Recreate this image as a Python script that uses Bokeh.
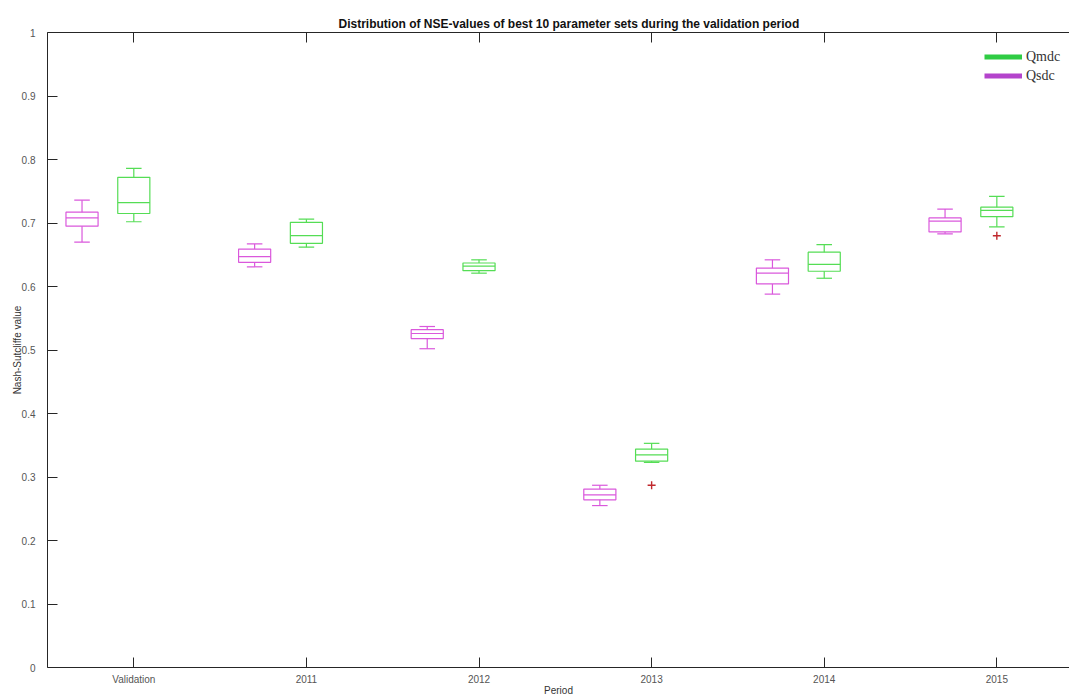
from bokeh.plotting import figure
from bokeh.models import (Range1d, FixedTicker, LinearAxis, CustomJSTickFormatter,
                          Legend, LegendItem, ColumnDataSource)
from bokeh.embed import file_html
from bokeh.resources import INLINE

# ---------------- data ----------------
periods = ["Validation", "2011", "2012", "2013", "2014", "2015"]
positions = [1, 2, 3, 4, 5, 6]

# Qsdc (magenta) : whisker low, q1, median, q3, whisker high
qsdc_low = [0.670, 0.631, 0.502, 0.255, 0.588, 0.683]
qsdc_q1 = [0.695, 0.638, 0.518, 0.264, 0.604, 0.686]
qsdc_med = [0.708, 0.647, 0.526, 0.272, 0.621, 0.703]
qsdc_q3 = [0.717, 0.659, 0.532, 0.281, 0.629, 0.708]
qsdc_high = [0.736, 0.667, 0.537, 0.287, 0.642, 0.722]

# Qmdc (green)
qmdc_low = [0.702, 0.662, 0.621, 0.323, 0.613, 0.694]
qmdc_q1 = [0.715, 0.668, 0.625, 0.325, 0.624, 0.710]
qmdc_med = [0.732, 0.680, 0.632, 0.335, 0.635, 0.720]
qmdc_q3 = [0.772, 0.701, 0.637, 0.344, 0.654, 0.725]
qmdc_high = [0.786, 0.706, 0.642, 0.353, 0.666, 0.742]

# outliers (Qmdc)
out_period = [4, 6]
out_value = [0.287, 0.680]

yticks = [0, 0.1, 0.2, 0.3, 0.4, 0.5, 0.6, 0.7, 0.8, 0.9, 1]

# ---------------- styling ----------------
C_SDC = "#da58dc"
C_MDC = "#55dd55"
C_SDC_LEG = "#b444cc"
C_MDC_LEG = "#2fcc44"
SDC_SHIFT = -0.30
HALF_BOX = 0.093
HALF_CAP = 0.045

p = figure(width=1069, height=698, output_backend="svg", toolbar_location=None,
           x_range=Range1d(0.5, 6.421), y_range=Range1d(0, 1),
           min_border_left=47, min_border_right=0, min_border_top=32,
           min_border_bottom=30)
p.outline_line_color = None
p.xgrid.visible = False
p.ygrid.visible = False
p.background_fill_color = "white"
p.border_fill_color = "white"

p.title.text = "Distribution of NSE-values of best 10 parameter sets during the validation period"
p.title.text_font = "Liberation Sans"
p.title.text_font_size = "12px"
p.title.text_font_style = "bold"
p.title.text_color = "#111111"
p.title.align = "left"
p.title.offset = 291
p.title.standoff = 4


def draw_boxes(xs, low, q1, med, q3, high, color):
    src = ColumnDataSource(dict(
        x=xs, left=[x - HALF_BOX for x in xs], right=[x + HALF_BOX for x in xs],
        cl=[x - HALF_CAP for x in xs], cr=[x + HALF_CAP for x in xs],
        low=low, q1=q1, med=med, q3=q3, high=high))
    kw = dict(source=src, line_color=color, line_width=1.2)
    p.quad(left="left", right="right", bottom="q1", top="q3", fill_color=None, **kw)
    p.segment(x0="left", x1="right", y0="med", y1="med", **kw)
    p.segment(x0="x", x1="x", y0="q3", y1="high", **kw)
    p.segment(x0="x", x1="x", y0="q1", y1="low", **kw)
    p.segment(x0="cl", x1="cr", y0="high", y1="high", **kw)
    p.segment(x0="cl", x1="cr", y0="low", y1="low", **kw)


sdc_x = [x + SDC_SHIFT for x in positions]
mdc_x = list(positions)
draw_boxes(sdc_x, qsdc_low, qsdc_q1, qsdc_med, qsdc_q3, qsdc_high, C_SDC)
draw_boxes(mdc_x, qmdc_low, qmdc_q1, qmdc_med, qmdc_q3, qmdc_high, C_MDC)

p.scatter(x=out_period, y=out_value, marker="cross", size=8,
          line_color="#c0282d", line_width=1.4)

# legend (dummy renderers)
r_mdc = p.line(x=[float("nan")], y=[float("nan")], line_color=C_MDC_LEG, line_width=5)
r_sdc = p.line(x=[float("nan")], y=[float("nan")], line_color=C_SDC_LEG, line_width=5)
legend = Legend(items=[LegendItem(label="Qmdc", renderers=[r_mdc]),
                       LegendItem(label="Qsdc", renderers=[r_sdc])],
                location=(937, 582))
legend.label_text_font = "Liberation Serif"
legend.label_text_font_size = "14px"
legend.label_text_color = "#333333"
legend.glyph_width = 38
legend.glyph_height = 19
legend.label_height = 19
legend.label_standoff = 4
legend.spacing = 0
legend.padding = 2
legend.margin = 0
legend.border_line_color = None
legend.background_fill_color = None
p.add_layout(legend)

# axes
AX = "#262626"
xax = p.xaxis[0]
xax.ticker = FixedTicker(ticks=positions)
xax.major_label_overrides = {pos: lab for pos, lab in zip(positions, periods)}
xax.axis_label = "Period"
yax = p.yaxis[0]
yax.ticker = FixedTicker(ticks=yticks)
yax.formatter = CustomJSTickFormatter(code="return tick.toFixed(1).replace(/\\.0$/, '');")
yax.axis_label = "Nash-Sutcliffe value"

for ax in (xax, yax):
    ax.axis_line_color = AX
    ax.major_tick_line_color = AX
    ax.major_tick_in = 10
    ax.major_tick_out = 0
    ax.minor_tick_line_color = None
    ax.major_label_text_font = "Liberation Sans"
    ax.major_label_text_font_size = "10px"
    ax.major_label_text_color = "#555555"
    ax.axis_label_text_font = "Liberation Sans"
    ax.axis_label_text_font_size = "10px"
    ax.axis_label_text_font_style = "normal"
    ax.axis_label_text_color = "#333333"

xax.major_label_standoff = 6
xax.axis_label_standoff = -3
yax.major_label_standoff = 12
yax.axis_label_standoff = -4

top = LinearAxis(ticker=FixedTicker(ticks=positions))
top.major_label_text_color = None
top.major_label_text_font_size = "1px"
top.major_label_standoff = 0
top.axis_line_color = AX
top.major_tick_line_color = AX
top.major_tick_in = 10
top.major_tick_out = 0
top.minor_tick_line_color = None
p.add_layout(top, "above")

open("out.html", "w").write(file_html(p, INLINE))
